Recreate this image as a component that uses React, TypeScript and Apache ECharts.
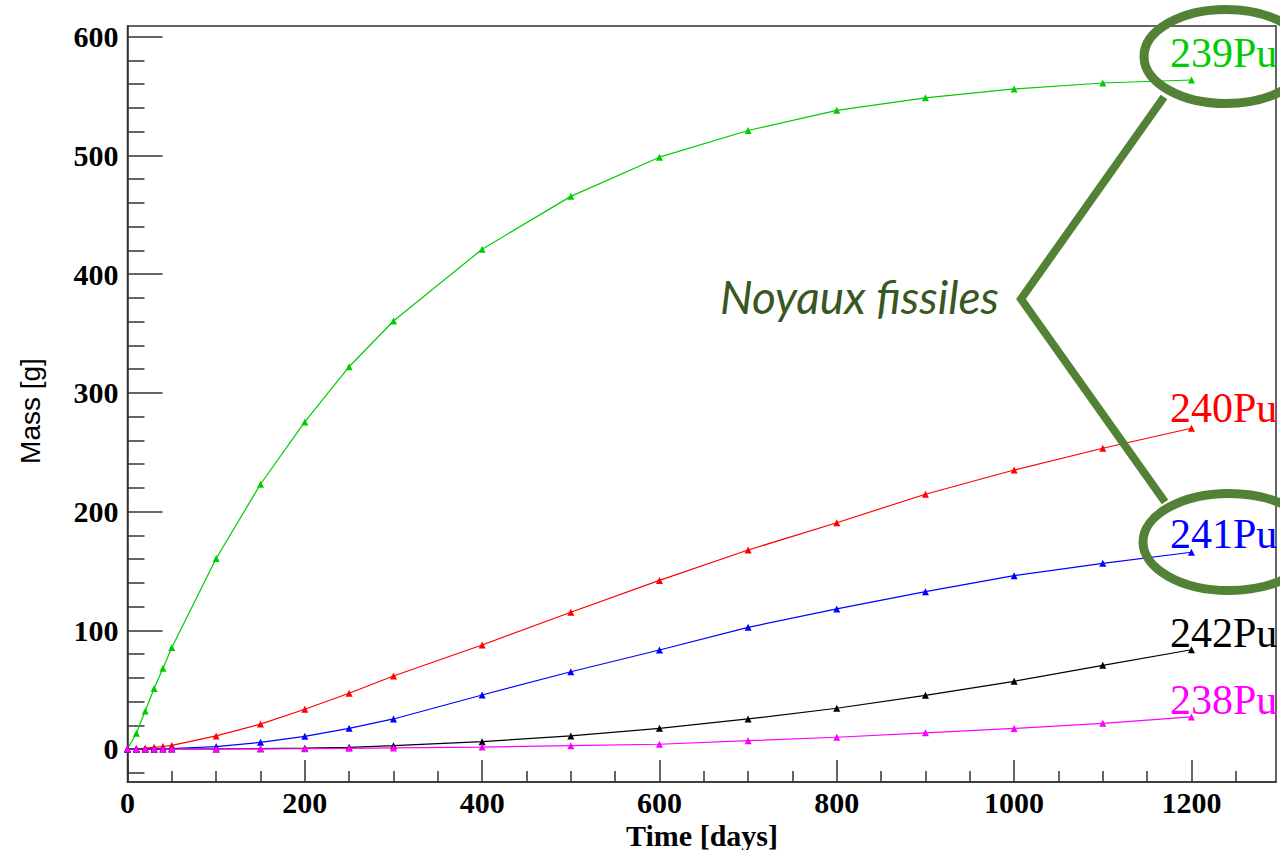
import React, { useEffect, useRef } from "react";
import * as echarts from "echarts";

const days = [0, 10, 20, 30, 40, 50, 100, 150, 200, 250, 300, 400, 500, 600, 700, 800, 900, 1000, 1100, 1200];
const pu239 = [0, 13.2, 32, 51, 68, 85.5, 160.5, 223, 275.5, 322, 360.5, 421, 465.5, 498.5, 521, 538, 548.5, 556, 561, 563.5];
const pu240 = [0, 0.2, 0.7, 1.4, 2.1, 3, 11, 21, 33.5, 47, 61.5, 87.6, 115.2, 142, 167.6, 190.6, 214.6, 235, 253.3, 270.2];
const pu241 = [0, 0, 0.05, 0.1, 0.2, 0.4, 2, 5.6, 10.7, 17.4, 25.3, 45.5, 65.1, 83.4, 102.5, 118, 132.5, 146, 156.4, 165.7];
const pu242 = [0, 0, 0, 0, 0, 0, 0.1, 0.3, 0.7, 1.4, 2.8, 6.2, 11, 17.4, 25.3, 34.3, 45.2, 57, 70.5, 83.6];
const pu238 = [0, 0, 0, 0, 0, 0.01, 0.05, 0.15, 0.3, 0.6, 0.9, 1.6, 2.8, 4, 7, 9.9, 13.6, 17.3, 21.6, 27];

const seriesNames = ["239Pu", "240Pu", "241Pu", "242Pu", "238Pu"];
const seriesColors = ["#00cc00", "#ff0000", "#0000ff", "#000000", "#ff00ff"];
const seriesValues = [pu239, pu240, pu241, pu242, pu238];

const xMajor = [0, 200, 400, 600, 800, 1000, 1200];
const xMinor = [50, 100, 150, 250, 300, 350, 450, 500, 550, 650, 700, 750, 850, 900, 950, 1050, 1100, 1150, 1250];
const yMajor = [0, 100, 200, 300, 400, 500, 600];
const yMinor = [-20, 20, 40, 60, 80, 120, 140, 160, 180, 220, 240, 260, 280, 320, 340, 360, 380, 420, 440, 460, 480, 520, 540, 560, 580];

const xTitle = "Time [days]";
const yTitle = "Mass [g]";
const annotation = "Noyaux fissiles";

export default function App() {
  const ref = useRef<HTMLDivElement>(null);
  useEffect(() => {
    if (!ref.current) return;
    const chart = echarts.init(ref.current, null, { renderer: "svg" });
    const axisColor = "#333";
    const tickFont = { fontFamily: "Liberation Serif", fontWeight: "bold" as const, fontSize: 30, color: "#000" };
    const xRange = { min: 0, max: 1295.4 };
    const yRange = { min: -27.8, max: 609 };
    const labelY = [53, 408, 534, 633, 700];
    const green = "#538135";
    const plain = (v: number) => String(v);

    chart.setOption({
      animation: false,
      grid: {
        left: 127.5,
        top: 26,
        right: 4,
        bottom: 68,
        show: true,
        borderColor: axisColor,
        borderWidth: 1.5,
        backgroundColor: "transparent",
      },
      xAxis: [
        {
          type: "value",
          position: "bottom",
          ...xRange,
          axisLine: { show: true, onZero: false, lineStyle: { color: axisColor, width: 1.5 } },
          axisTick: { show: true, inside: true, length: 22, customValues: xMajor, lineStyle: { color: axisColor, width: 1.5 } },
          axisLabel: { show: true, customValues: xMajor, margin: 5, formatter: plain, ...tickFont },
          splitLine: { show: false },
        },
        {
          type: "value",
          position: "bottom",
          ...xRange,
          axisLine: { show: false, onZero: false },
          axisTick: { show: true, inside: true, length: 11, customValues: xMinor, lineStyle: { color: axisColor, width: 1.5 } },
          axisLabel: { show: false },
          splitLine: { show: false },
        },
      ],
      yAxis: [
        {
          type: "value",
          position: "left",
          ...yRange,
          axisLine: { show: true, onZero: false, lineStyle: { color: axisColor, width: 1.5 } },
          axisTick: { show: true, inside: true, length: 35, customValues: yMajor, lineStyle: { color: axisColor, width: 1.5 } },
          axisLabel: { show: true, customValues: yMajor, margin: 9, formatter: plain, ...tickFont },
          splitLine: { show: false },
        },
        {
          type: "value",
          position: "left",
          ...yRange,
          axisLine: { show: false, onZero: false },
          axisTick: { show: true, inside: true, length: 17, customValues: yMinor, lineStyle: { color: axisColor, width: 1.5 } },
          axisLabel: { show: false },
          splitLine: { show: false },
        },
      ],
      series: seriesValues.map((vals, i) => ({
        name: seriesNames[i],
        type: "line",
        xAxisIndex: 0,
        yAxisIndex: 0,
        data: days.map((d, j) => [d, vals[j]]),
        symbol: "triangle",
        symbolSize: 7,
        showAllSymbol: true,
        itemStyle: { color: seriesColors[i] },
        lineStyle: { color: seriesColors[i], width: 1.2 },
        z: 2 + i,
      })),
      graphic: [
        {
          type: "text",
          x: 702,
          y: 835,
          style: {
            text: xTitle,
            font: "bold 30px 'Liberation Serif'",
            fill: "#000",
            textAlign: "center",
            textVerticalAlign: "middle",
          },
        },
        {
          type: "text",
          x: 30,
          y: 411,
          rotation: Math.PI / 2,
          style: {
            text: yTitle,
            font: "28px 'Liberation Sans'",
            fill: "#000",
            textAlign: "center",
            textVerticalAlign: "middle",
          },
        },
        ...seriesNames.map((n, i) => ({
          type: "text",
          x: 1170,
          y: labelY[i],
          z: 20,
          style: {
            text: n,
            font: "42px 'Liberation Serif'",
            fill: seriesColors[i],
            textAlign: "left",
            textVerticalAlign: "middle",
          },
        })),
        {
          type: "ellipse",
          z: 30,
          shape: { cx: 1226, cy: 56.5, rx: 82, ry: 47 },
          style: { fill: "none", stroke: green, lineWidth: 9 },
        },
        {
          type: "ellipse",
          z: 30,
          shape: { cx: 1229, cy: 542, rx: 86, ry: 48.5 },
          style: { fill: "none", stroke: green, lineWidth: 9 },
        },
        {
          type: "polyline",
          z: 30,
          shape: { points: [[1164, 97], [1021, 299], [1165, 502]] },
          style: { fill: "none", stroke: green, lineWidth: 8, lineJoin: "miter" },
        },
        {
          type: "text",
          x: 720,
          y: 296,
          z: 30,
          style: {
            text: annotation,
            font: "italic 46px Lato",
            fill: "#385723",
            textAlign: "left",
            textVerticalAlign: "middle",
          },
        },
      ],
    });
    return () => chart.dispose();
  }, []);
  return <div ref={ref} style={{ position: "absolute", left: 0, top: 0, width: 1280, height: 850 }} />;
}
